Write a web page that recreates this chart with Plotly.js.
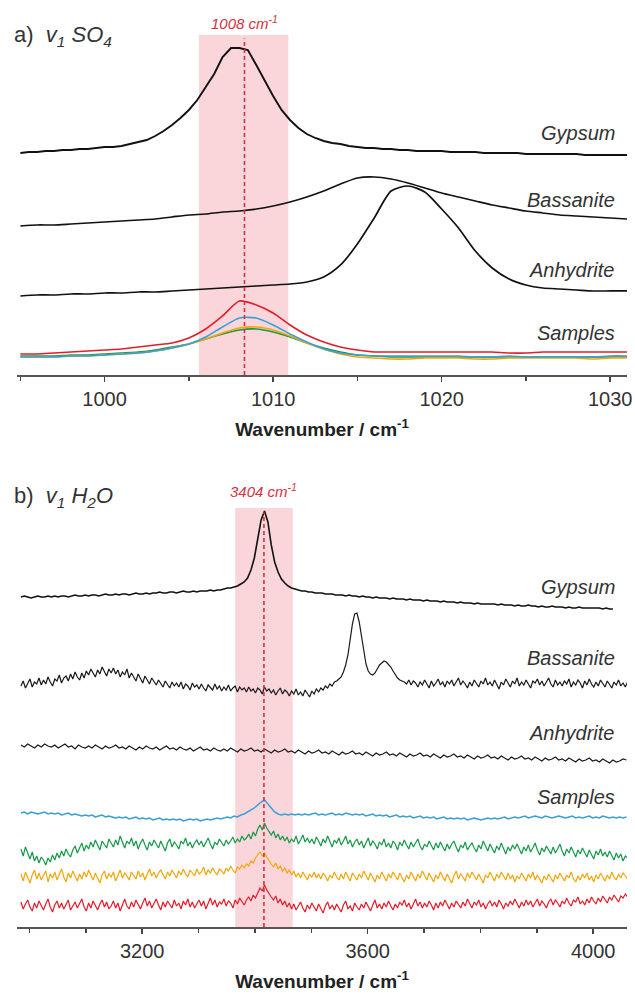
<!DOCTYPE html>
<html><head><meta charset="utf-8">
<script src="https://cdn.plot.ly/plotly-3.0.1.min.js"></script>
<style>html,body{margin:0;padding:0;background:#fff;}#chart{width:635px;height:997px;}</style>
</head><body><div id="chart"></div>
<script>
// ---------- Panel a: v1 SO4 (wavenumber grid starting 995 cm-1) ----------
const aStartWn = 995;
const gypsumA = [22.2,22.3,22.3,22.4,22.4,22.5,22.5,22.6,22.6,22.7,
  22.8,22.8,22.9,23.1,23.3,23.5,23.9,24.4,25.0,25.7,
  26.5,27.5,28.8,30.1,31.8,32.7,32.7,32.5,31.0,29.4,
  27.9,26.5,25.5,24.7,24.1,23.7,23.4,23.2,23.1,22.9,
  22.8,22.7,22.7,22.6,22.6,22.5,22.5,22.4,22.4,22.4,
  22.4,22.3,22.3,22.3,22.3,22.2,22.2,22.2,22.2,22.2,
  22.1,22.1,22.1,22.1,22.1,22.1,22.1,22.0,22.0,22.0,
  22.0,22.0,22.0];
const bassaniteA = [14.9,15.0,15.0,15.1,15.2,15.3,15.4,15.5,15.6,15.8,
  16.0,16.1,16.3,16.4,16.6,16.9,17.3,17.8,
  18.4,19.1,19.7,19.8,19.6,19.2,18.7,18.2,17.8,17.4,17.0,16.7,16.4,16.2,16.0,15.9,15.8,15.7,15.6];
const anhydriteA = [7.9,8.0,8.0,8.1,8.1,8.2,8.2,8.3,8.3,8.4,
  8.5,8.6,8.7,8.8,8.9,9.0,9.1,9.3,9.8,11.0,
  13.1,15.7,18.4,18.9,18.3,16.6,14.7,12.4,10.7,9.6,
  9.0,8.7,8.6,8.5,8.4,8.4,8.4];
const sampleRedA = [2.1,2.1,2.2,2.3,2.4,2.5,2.6,2.8,3.0,3.2,
  3.7,4.6,5.9,7.4,7.0,6.2,5.0,4.0,3.3,2.8,
  2.5,2.3,2.3,2.3,2.3,2.3,2.3,2.3,2.3,2.2,
  2.2,2.3,2.3,2.3,2.3,2.3,2.3];
const sampleBlueA = [1.8,1.8,1.8,1.9,1.9,2.0,2.1,2.2,2.4,2.7,
  3.1,3.8,4.8,5.7,5.7,5.0,4.1,3.3,2.6,2.2,
  2.0,1.9,1.9,1.9,1.9,1.9,1.9,1.8,1.8,1.9,
  1.8,1.8,1.8,1.8,1.8,1.9,1.9];
const sampleOrangeA = [1.8,1.8,1.8,1.9,1.9,2.0,2.1,2.2,2.4,2.7,
  3.1,3.6,4.2,4.7,4.8,4.5,3.9,3.2,2.6,2.1,
  1.8,1.7,1.6,1.6,1.7,1.7,1.7,1.6,1.6,1.7,
  1.7,1.7,1.7,1.7,1.6,1.7,1.7];
const sampleGreenA = [1.9,1.9,1.9,2.0,2.0,2.1,2.2,2.3,2.5,2.8,
  3.1,3.6,4.1,4.5,4.6,4.3,3.8,3.2,2.7,2.3,
  2.0,1.9,1.8,1.8,1.8,1.8,1.8,1.8,1.8,1.8,
  1.8,1.8,1.8,1.8,1.8,1.8,1.8];

// ---------- Panel b: v1 H2O (wavenumber grid from 2985 cm-1) ----------
const bStartWn = 2985, bStepSmooth = 6, bStepNoisy = 4;
// step 6 cm-1
const gypsumB = [330,331,330,329,330,331,330,330,331,330,
  331,330,331,331,330,331,332,331,331,332,
  331,332,332,331,332,333,332,332,333,332,
  333,333,332,333,334,333,333,334,333,334,
  334,335,334,334,335,335,334,335,336,335,
  335,336,335,336,336,336,337,336,337,337,
  338,339,339,340,341,343,345,
  349,357,369,387,407,416,405,382,365,355,348,344,341,
  339,338,337,336,336,335,335,334,334,334,
  333,333,333,332,332,332,331,332,331,331,
  330,331,330,330,329,330,329,329,329,328,
  329,328,328,328,327,328,327,327,327,326,
  327,326,326,326,325,326,325,325,325,324,
  325,324,324,324,323,324,323,323,323,323,
  323,322,323,322,322,322,321,322,321,321,
  322,321,321,320,321,320,320,321,320,320,
  320,319,320,319,319,320,319,319,319,319,
  319,319,318,319,318,318];
// step 4 cm-1
const bassaniteB = [241,246,239,244,248,240,245,243,249,242,
  247,243,250,245,241,248,246,252,244,249,
  251,246,253,248,255,250,247,254,249,256,
  252,258,254,250,257,253,260,255,251,258,
  254,259,253,257,250,255,252,258,249,254,
  250,246,253,248,244,251,247,243,249,245,
  242,247,244,240,246,243,239,245,241,244,
  240,245,238,243,241,237,244,240,242,238,
  243,239,236,242,240,237,243,238,241,236,
  240,237,242,236,239,241,235,240,237,239,
  235,240,236,238,234,239,237,233,240,236,
  238,234,237,232,236,239,233,237,235,231,
  236,233,238,232,235,231,237,234,230,236,
  233,238,235,239,237,241,239,243,241,245,
  246,248,250,255,262,272,288,303,313,314,
  305,290,274,263,256,253,252,254,258,262,
  264,266,265,263,260,256,252,249,247,246,
  245,243,247,242,246,244,240,245,242,247,
  243,239,246,241,244,248,242,245,240,246,
  243,247,241,245,249,242,246,243,239,245,
  241,247,244,240,246,243,249,242,245,241,
  247,243,238,245,242,248,244,240,246,243,
  249,241,245,242,247,243,239,246,244,248,
  242,246,241,245,249,243,240,247,242,245,
  241,246,243,248,240,245,242,247,244,239,
  246,242,248,243,240,245,241,247,244,240,
  246,243,239,245,242,247,241,244,240,245];
// step 6 cm-1
const anhydriteB = [182,180,183,181,179,182,180,183,181,180,
  182,179,181,183,180,181,178,182,180,179,
  181,179,182,180,178,181,179,180,182,179,
  180,178,181,179,177,180,178,181,179,178,
  180,177,179,181,178,179,177,180,178,177,
  179,176,178,180,177,178,176,179,177,176,
  178,176,179,177,175,178,176,177,179,176,
  177,175,178,176,174,177,175,176,178,175,
  176,174,177,175,173,176,174,175,177,174,
  175,173,176,174,172,175,173,174,176,173,
  174,172,175,173,171,174,172,173,175,172,
  173,171,174,172,170,173,171,172,174,171,
  172,170,173,171,169,172,170,171,173,170,
  171,169,172,170,168,171,169,170,172,169,
  170,168,171,169,167,170,168,169,171,168,
  169,167,170,168,166,169,167,168,170,167,
  168,166,169,167,165,168,166,167,169,166,
  167,165,168,166,164,167,165,166,168,167];
// step 6 cm-1
const sampleBlueB = [114,115,113,115,114,113,114,115,113,114,
  113,114,112,113,114,112,113,112,111,112,
  111,112,110,111,112,110,111,110,109,110,
  109,110,108,109,110,108,109,108,109,107,
  108,109,107,108,107,108,107,108,106,107,
  108,107,108,106,107,108,107,108,109,108,
  109,110,109,111,110,112,113,115,117,119,
  122,125,127,123,118,115,113,112,113,112,
  113,112,113,112,113,112,113,114,112,113,
  112,113,114,112,113,112,114,113,112,113,
  112,113,111,112,113,111,112,111,112,110,
  111,112,110,111,110,111,109,110,111,109,
  110,109,110,108,109,110,108,109,108,109,
  108,109,107,108,109,108,107,108,109,108,
  109,108,109,110,108,109,110,109,110,111,
  109,110,111,110,109,111,110,109,110,111,
  110,109,110,111,109,110,109,110,111,109,
  110,109,111,110,109,110,109,110,109,110];
// step 4 cm-1
const sampleGreenB = [78,71,80,73,68,75,66,71,64,70,
  67,62,69,65,72,67,74,69,76,71,
  78,73,70,77,81,74,79,84,76,82,
  78,85,80,87,82,77,86,83,79,88,
  84,80,87,82,91,85,79,86,83,89,
  81,86,78,84,88,82,77,85,81,87,
  83,79,86,81,76,84,88,80,85,82,
  78,86,83,89,81,85,79,84,87,82,
  86,80,84,89,83,78,85,82,88,84,
  81,87,83,86,90,84,88,85,91,87,
  89,93,88,95,91,98,102,97,104,99,
  95,92,96,89,93,87,91,86,90,84,
  88,85,91,83,87,92,85,89,84,88,
  83,90,86,81,88,84,91,85,80,87,
  84,89,82,86,91,83,87,80,85,88,
  82,86,79,84,89,81,86,83,78,85,
  82,88,80,84,79,86,83,77,85,81,
  87,82,78,85,80,84,88,81,77,83,
  80,86,82,77,84,79,85,81,76,83,
  78,83,86,80,75,82,79,85,77,81,
  84,79,75,82,78,86,80,76,83,79,
  74,81,77,84,79,73,80,76,82,78,
  83,77,73,80,76,82,75,79,84,77,
  72,79,75,81,77,73,80,74,78,83,
  76,71,78,74,80,75,70,77,73,79,
  75,70,77,73,68,76,72,78,71,75,
  70,76,72,67,74,69,73,66,71,69];
const sampleOrangeB = [53,46,55,49,44,52,57,48,54,47,
  51,56,45,53,49,55,47,52,58,50,
  45,54,49,56,51,46,53,48,55,50,
  57,52,47,54,49,44,52,56,48,53,
  50,55,46,52,57,49,54,51,47,55,
  52,48,56,50,54,47,53,58,51,55,
  49,54,57,52,48,55,51,57,53,49,
  56,52,58,53,50,57,54,51,58,53,
  55,60,52,57,54,59,55,52,58,56,
  53,59,56,61,57,54,60,58,62,59,
  63,61,66,64,69,72,75,71,74,70,
  66,63,60,64,58,61,56,59,54,57,
  52,56,50,54,49,55,51,47,53,50,
  55,49,53,48,54,51,46,52,49,55,
  50,47,53,48,55,51,46,54,50,47,
  53,49,56,51,47,54,50,45,52,48,
  55,50,46,53,49,55,51,47,54,49,
  45,52,48,55,50,46,53,49,56,51,
  47,54,50,45,52,48,55,51,46,53,
  49,44,51,56,48,53,50,46,54,49,
  55,51,47,53,48,44,52,49,55,50,
  46,53,49,55,51,47,54,48,52,45,
  51,48,54,50,46,53,49,55,47,52,
  48,44,51,47,53,49,45,52,48,54,
  50,46,52,49,55,48,45,51,47,53,
  49,54,47,51,45,52,48,54,50,46,
  52,48,55,50,47,53,49,54,51,48];
const sampleRedB = [25,18,23,27,20,16,24,19,26,21,
  17,23,28,20,15,22,26,19,24,18,
  22,27,17,21,25,19,23,28,20,16,
  24,19,26,22,17,23,27,20,25,18,
  21,26,19,24,16,22,28,21,18,25,
  20,27,23,18,24,29,21,26,19,23,
  28,22,17,25,20,26,23,19,27,21,
  24,18,26,22,28,20,25,19,23,27,
  21,26,18,24,29,22,27,20,25,23,
  28,21,26,24,19,27,23,29,25,22,
  27,30,26,32,29,35,39,36,42,37,
  33,30,27,31,24,28,22,26,20,24,
  18,23,17,21,25,19,15,22,18,24,
  20,16,23,19,14,21,25,18,22,17,
  23,19,15,22,26,18,21,16,24,20,
  17,23,19,25,21,16,22,27,19,23,
  18,24,20,26,21,17,23,19,25,22,
  27,20,24,18,23,28,21,25,19,24,
  20,26,22,17,24,19,25,21,27,22,
  18,24,20,26,23,19,25,21,28,23,
  19,25,22,27,20,24,18,23,26,21,
  25,20,27,23,18,24,21,26,22,28,
  23,19,25,21,27,22,26,20,24,28,
  21,26,23,19,25,28,22,27,24,20,
  26,23,29,24,21,27,25,30,23,26,
  22,28,24,30,26,23,29,25,31,27,
  24,30,27,32,28,25,31,29,33,30];

// Peak markers (cm-1) and highlighted bands
const peakA = 1008.3, bandA = [1005.6, 1010.9];
const peakB = 3416, bandB = [3365, 3467];
const labelsA = ['Gypsum','Bassanite','Anhydrite','Samples'];
const labelsB = ['Gypsum','Bassanite','Anhydrite','Samples'];

const FONT = 'Liberation Sans, Arial, sans-serif';
const BLACK = '#111111';
const RED = '#e31d2b', BLUE = '#3a9fd6', ORANGE = '#f2a60c', GREEN = '#17994a';

function lineA(y, dx, color, w, shape) {
  return {type:'scatter', mode:'lines', x0:aStartWn, dx:dx, y:y, xaxis:'x', yaxis:'y',
    line:{color:color, width:w, shape:shape || 'spline', smoothing:0.7}, hoverinfo:'skip', showlegend:false};
}
function lineB(y, dx, color, w) {
  return {type:'scatter', mode:'lines', x0:bStartWn, dx:dx, y:y, xaxis:'x2', yaxis:'y2',
    line:{color:color, width:w}, hoverinfo:'skip', showlegend:false};
}

const traces = [
  lineA(gypsumA, 0.5, BLACK, 1.9, 'linear'),
  lineA(bassaniteA, 1, BLACK, 1.7),
  lineA(anhydriteA, 1, BLACK, 1.7),
  lineA(sampleGreenA, 1, GREEN, 1.6),
  lineA(sampleOrangeA, 1, ORANGE, 1.6),
  lineA(sampleBlueA, 1, BLUE, 1.6),
  lineA(sampleRedA, 1, RED, 1.6),
  lineB(gypsumB, bStepSmooth, BLACK, 1.6),
  lineB(bassaniteB, bStepNoisy, '#1a1a1a', 1.2),
  lineB(anhydriteB, bStepSmooth, '#1a1a1a', 1.2),
  lineB(sampleBlueB, bStepSmooth, BLUE, 1.5),
  lineB(sampleGreenB, bStepNoisy, GREEN, 1.2),
  lineB(sampleOrangeB, bStepNoisy, ORANGE, 1.2),
  lineB(sampleRedB, bStepNoisy, RED, 1.2)
];

function xAxisCfg(range, tick0, dtick, minorDtick, minorTick0) {
  return {
    range: range, tick0: tick0, dtick: dtick,
    ticks:'outside', ticklen:5, tickwidth:1.5, tickcolor:'#444',
    showline:true, linecolor:'#555', linewidth:2,
    showgrid:false, zeroline:false,
    tickfont:{family:FONT, size:20, color:'#333'},
    minor:{tick0:minorTick0, dtick:minorDtick, ticks:'outside', ticklen:4, tickwidth:1.5, tickcolor:'#444', showgrid:false},
    title:{text:'<b>Wavenumber / cm<sup>-1</sup></b>', font:{family:FONT, size:19, color:'#222'}, standoff:14},
    fixedrange:true
  };
}

const layout = {
  width:635, height:997,
  margin:{l:17, r:8, t:0, b:0},
  paper_bgcolor:'#ffffff', plot_bgcolor:'rgba(0,0,0,0)',
  showlegend:false,
  xaxis: Object.assign(xAxisCfg([994.8, 1031.0], 1000, 10, 5, 995), {anchor:'y'}),
  yaxis: {domain:[0.6239, 0.9649], range:[0, 34], visible:false, fixedrange:true},
  xaxis2: Object.assign(xAxisCfg([2978, 4060], 3200, 400, 100, 3000), {anchor:'y2'}),
  yaxis2: {domain:[0.0702, 0.4905], range:[0, 419], visible:false, fixedrange:true},
  shapes: [
    {type:'rect', xref:'x', yref:'y domain', x0:bandA[0], x1:bandA[1], y0:0, y1:1,
      fillcolor:'rgba(239,130,145,0.33)', line:{width:0}, layer:'below'},
    {type:'line', xref:'x', yref:'y domain', x0:peakA, x1:peakA, y0:0, y1:0.99,
      line:{color:'#d3313f', width:1.6, dash:'4px,3px'}},
    {type:'rect', xref:'x2', yref:'y2 domain', x0:bandB[0], x1:bandB[1], y0:0, y1:1,
      fillcolor:'rgba(239,130,145,0.33)', line:{width:0}, layer:'below'},
    {type:'line', xref:'x2', yref:'y2 domain', x0:peakB, x1:peakB, y0:0, y1:0.99,
      line:{color:'#d3313f', width:1.6, dash:'4px,3px'}}
  ],
  annotations: [
    {xref:'paper', yref:'paper', x:-0.008, y:0.9639, xanchor:'left', yanchor:'middle', showarrow:false,
      text:'a)&nbsp;&nbsp;<i>v<sub>1</sub> SO<sub>4</sub></i>', font:{family:FONT, size:22, color:'#333'}},
    {xref:'paper', yref:'paper', x:-0.008, y:0.5015, xanchor:'left', yanchor:'middle', showarrow:false,
      text:'b)&nbsp;&nbsp;<i>v<sub>1</sub> H<sub>2</sub>O</i>', font:{family:FONT, size:22, color:'#333'}},
    {xref:'x', yref:'paper', x:peakA, y:0.9775, xanchor:'center', yanchor:'middle', showarrow:false,
      text:'<i>1008 cm<sup>-1</sup></i>', font:{family:FONT, size:15, color:'#d9313f'}},
    {xref:'x2', yref:'paper', x:peakB, y:0.5085, xanchor:'center', yanchor:'middle', showarrow:false,
      text:'<i>3404 cm<sup>-1</sup></i>', font:{family:FONT, size:15, color:'#d9313f'}}
  ]
};

const labYA = [0.8666, 0.7994, 0.7292, 0.6660];
const labYB = [0.4112, 0.3400, 0.2648, 0.2006];
labelsA.forEach((t, i) => layout.annotations.push({xref:'paper', yref:'paper', x:0.9836, y:labYA[i],
  xanchor:'right', yanchor:'middle', showarrow:false, text:'<i>' + t + '</i>', font:{family:FONT, size:20, color:'#333'}}));
labelsB.forEach((t, i) => layout.annotations.push({xref:'paper', yref:'paper', x:0.9836, y:labYB[i],
  xanchor:'right', yanchor:'middle', showarrow:false, text:'<i>' + t + '</i>', font:{family:FONT, size:20, color:'#333'}}));

Plotly.newPlot('chart', traces, layout, {displayModeBar:false, staticPlot:true});
</script></body></html>
